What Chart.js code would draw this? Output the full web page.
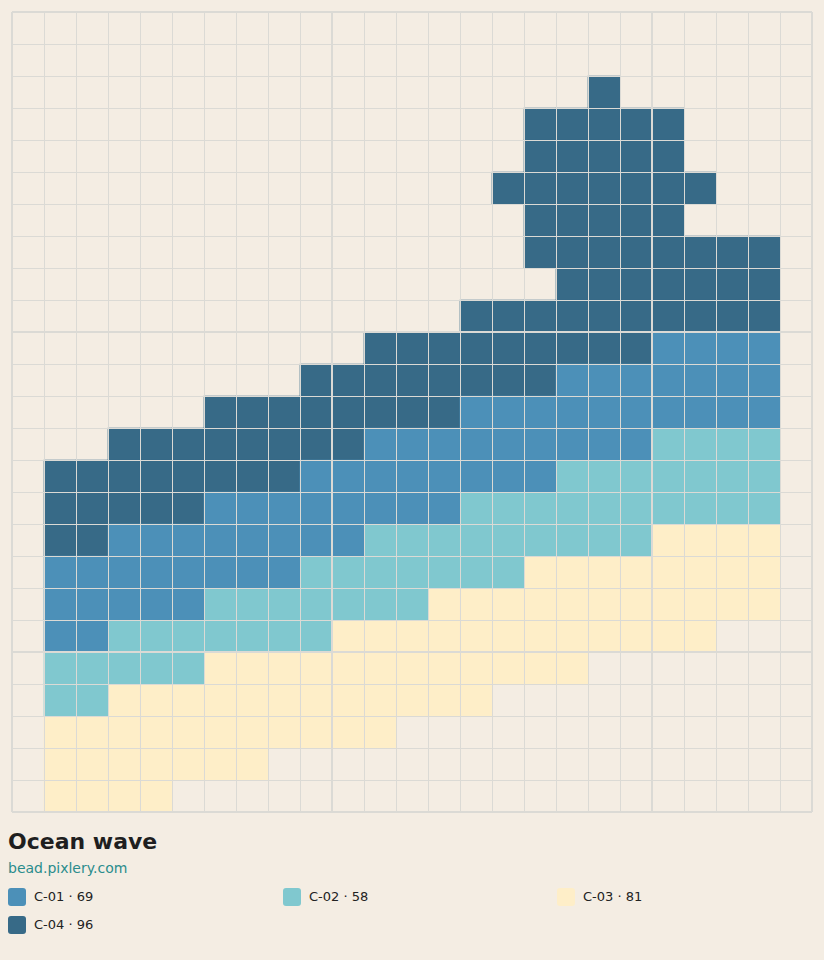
<!DOCTYPE html>
<html>
<head>
<meta charset="utf-8">
<script src="https://cdn.jsdelivr.net/npm/chart.js@4.4.1/dist/chart.umd.min.js"></script>
<style>
  html, body { margin: 0; padding: 0; background: #f4ede3; }
  body { width: 824px; height: 960px; position: relative; font-family: "DejaVu Sans", sans-serif; overflow: hidden; }
  #wrap { position: absolute; left: 0; top: 0; width: 824px; height: 824px; }
  #title { position: absolute; left: 8px; top: 829px; font-size: 22px; font-weight: bold; color: #1f1f1f; }
  #sub { position: absolute; left: 8px; top: 860px; font-size: 14px; color: #2a8c8c; }
  .item { position: absolute; font-size: 13px; color: #222; height: 18px; line-height: 18px; }
  .item span.sw { position: absolute; left: 0; top: 0; width: 18px; height: 18px; border-radius: 3px; }
  .item span.tx { position: absolute; left: 26px; top: 0; white-space: nowrap; }
</style>
</head>
<body>
<div id="wrap"><canvas id="grid" width="824" height="824"></canvas></div>
<div id="title">Ocean wave</div>
<div id="sub">bead.pixlery.com</div>
<div id="legend"></div>
<script>
// bead pattern, top row first; . = empty, a = C-01, b = C-02, c = C-03, d = C-04
const rows = [
  ".........................",
  ".........................",
  "..................d......",
  "................ddddd....",
  "................ddddd....",
  "...............ddddddd...",
  "................ddddd....",
  "................dddddddd.",
  ".................ddddddd.",
  "..............dddddddddd.",
  "...........dddddddddaaaa.",
  ".........ddddddddaaaaaaa.",
  "......ddddddddaaaaaaaaaa.",
  "...ddddddddaaaaaaaaabbbb.",
  ".ddddddddaaaaaaaabbbbbbb.",
  ".dddddaaaaaaaabbbbbbbbbb.",
  ".ddaaaaaaaabbbbbbbbbcccc.",
  ".aaaaaaaabbbbbbbcccccccc.",
  ".aaaaabbbbbbbccccccccccc.",
  ".aabbbbbbbcccccccccccc...",
  ".bbbbbcccccccccccc.......",
  ".bbcccccccccccc..........",
  ".ccccccccccc.............",
  ".ccccccc.................",
  ".cccc...................."
];
const columns = Array.from({ length: 25 }, (_, i) => String(i + 1));
const codes = ["a", "b", "c", "d"];
const names = ["C-01", "C-02", "C-03", "C-04"];
const colors = ["#4c90b8", "#80c8cf", "#feeec8", "#376a87"];

const datasets = codes.map((code, k) => {
  const cells = [];
  rows.forEach((row, r) => {
    for (let c = 0; c < row.length; c++) {
      if (row[c] === code) cells.push({ x: columns[c], y: [24 - r, 25 - r] });
    }
  });
  return {
    label: names[k],
    data: cells,
    backgroundColor: colors[k],
    borderWidth: 0,
    grouped: false,
    categoryPercentage: 1,
    barPercentage: 1
  };
});

// grid lines drawn over the beads
const gridOnTop = {
  id: "gridOnTop",
  afterDatasetsDraw(chart) {
    const { ctx, chartArea: a, scales: { y } } = chart;
    ctx.save();
    ctx.strokeStyle = "#dbdad5";
    for (let i = 0; i <= 25; i++) {
      const major = i % 10 === 0 || i === 25;
      ctx.lineWidth = major ? 2 : 1;
      const off = major ? 0 : 0.5;
      const px = Math.round(a.left + (a.right - a.left) * i / 25) + off;
      const py = Math.round(y.getPixelForValue(25 - i)) + off;
      ctx.beginPath();
      ctx.moveTo(px, a.top);
      ctx.lineTo(px, a.bottom);
      ctx.moveTo(a.left, py);
      ctx.lineTo(a.right, py);
      ctx.stroke();
    }
    ctx.restore();
  }
};

new Chart(document.getElementById("grid"), {
  type: "bar",
  data: { labels: columns, datasets },
  options: {
    responsive: false,
    animation: false,
    layout: { padding: 12 },
    plugins: { legend: { display: false }, tooltip: { enabled: false } },
    scales: {
      x: { type: "category", offset: true, display: false },
      y: { type: "linear", min: 0, max: 25, display: false }
    }
  },
  plugins: [gridOnTop]
});

// legend: name · count
const legend = document.getElementById("legend");
const lefts = [8, 283, 557];
datasets.forEach((ds, i) => {
  const el = document.createElement("div");
  el.className = "item";
  el.style.left = lefts[i % 3] + "px";
  el.style.top = (888 + Math.floor(i / 3) * 28) + "px";
  el.innerHTML = '<span class="sw" style="background:' + colors[i] + '"></span><span class="tx">' + ds.label + " · " + ds.data.length + "</span>";
  legend.appendChild(el);
});
</script>
</body>
</html>
